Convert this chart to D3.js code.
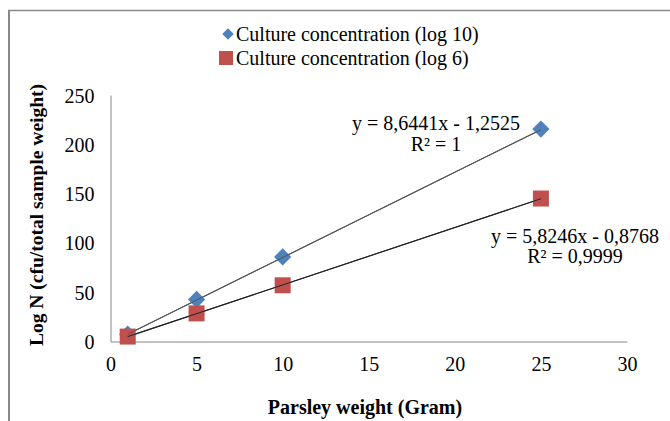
<!DOCTYPE html>
<html><head><meta charset="utf-8">
<script src="https://cdn.jsdelivr.net/npm/d3@7"></script>
<style>body{margin:0;background:#fff}svg{display:block}</style>
</head><body><svg id="c" width="670" height="421"></svg>
<script>
const xValues = [1, 5, 10, 25];
const log10Values = [7.4, 42.6, 85.8, 215.5];
const log6Values = [5.0, 28.5, 57.0, 145.0];
const seriesNames = ["Culture concentration (log 10)", "Culture concentration (log 6)"];
const slopes = [8.6441, 5.8246];
const intercepts = [-1.2525, -0.8768];
const eqLabels = ["y = 8,6441x - 1,2525", "y = 5,8246x - 0,8768"];
const r2Labels = ["R² = 1", "R² = 0,9999"];
const xTicks = [0, 5, 10, 15, 20, 25, 30];
const yTicks = [0, 50, 100, 150, 200, 250];
const colors = ["#4f81bd", "#c0504d"];
const FONT = '"Liberation Serif", "Times New Roman", serif';

const svg = d3.select("#c");
svg.append("line").attr("x1",8).attr("x2",670).attr("y1",10.5).attr("y2",10.5).attr("stroke","#888").attr("stroke-width",1.3);
svg.append("line").attr("x1",9).attr("x2",9).attr("y1",10).attr("y2",421).attr("stroke","#888").attr("stroke-width",2);

const x = d3.scaleLinear().domain([0,30]).range([110.5,627]);
const y = d3.scaleLinear().domain([0,250]).range([341.5,95]);

const xAxis = svg.append("g").attr("transform",`translate(0,${y(0)})`)
  .call(d3.axisBottom(x).tickValues(xTicks).tickSize(0).tickPadding(15));
const yAxis = svg.append("g").attr("transform",`translate(${x(0)},0)`)
  .call(d3.axisLeft(y).tickValues(yTicks).tickSize(0).tickPadding(16));
[xAxis,yAxis].forEach(a=>{
  a.attr("font-family",FONT).attr("font-size",20);
  a.select(".domain").attr("stroke","#868686").attr("stroke-width",1);
  a.selectAll("text").attr("fill","#000");
});
yAxis.selectAll("text").attr("dy","0.35em");

function trend(i, w){
  svg.append("line")
    .attr("x1",x(xValues[0])).attr("y1",y(slopes[i]*xValues[0]+intercepts[i]))
    .attr("x2",x(xValues[xValues.length-1])).attr("y2",y(slopes[i]*xValues[xValues.length-1]+intercepts[i]))
    .attr("stroke", i===0?"#555":"#222").attr("stroke-width",w);
}
trend(0,1.1); trend(1,1.1);

const dSym = d3.symbol().type(d3.symbolDiamond2).size(190);
svg.append("g").selectAll("path").data(xValues.map((v,i)=>[v,log10Values[i]])).join("path")
  .attr("d", dSym()).attr("fill",colors[0])
  .attr("transform",d=>`translate(${x(d[0])},${y(d[1])})`);
svg.append("g").selectAll("rect").data(xValues.map((v,i)=>[v,log6Values[i]])).join("rect")
  .attr("x",d=>x(d[0])-8).attr("y",d=>y(d[1])-8).attr("width",16).attr("height",16)
  .attr("fill",colors[1]);
trend(0,1); trend(1,1);

const t = (xx,yy,s,opts={}) => svg.append("text").attr("x",xx).attr("y",yy)
  .attr("font-family",FONT).attr("font-size",opts.size||20)
  .attr("font-weight",opts.bold?"bold":"normal")
  .attr("text-anchor",opts.anchor||"start").text(s);

const eqPos = [[436,130,151],[575,243,263]];
[0,1].forEach(i=>{
  t(eqPos[i][0],eqPos[i][1],eqLabels[i],{anchor:"middle"});
  t(eqPos[i][0],eqPos[i][2],r2Labels[i],{anchor:"middle"});
});

svg.append("path").attr("d", d3.symbol().type(d3.symbolDiamond2).size(85)()).attr("fill",colors[0]).attr("transform","translate(228,34)");
svg.append("rect").attr("x",219).attr("y",51).attr("width",14).attr("height",14).attr("fill",colors[1]);
t(236,41,seriesNames[0]);
t(236,65,seriesNames[1]);

t(365,414,"Parsley weight (Gram)",{bold:true,anchor:"middle"});
svg.append("text").attr("transform","translate(43,215) rotate(-90)").attr("text-anchor","middle")
  .attr("font-family",FONT).attr("font-size",19.5).attr("font-weight","bold").text("Log N (cfu/total sample weight)");
</script></body></html>
